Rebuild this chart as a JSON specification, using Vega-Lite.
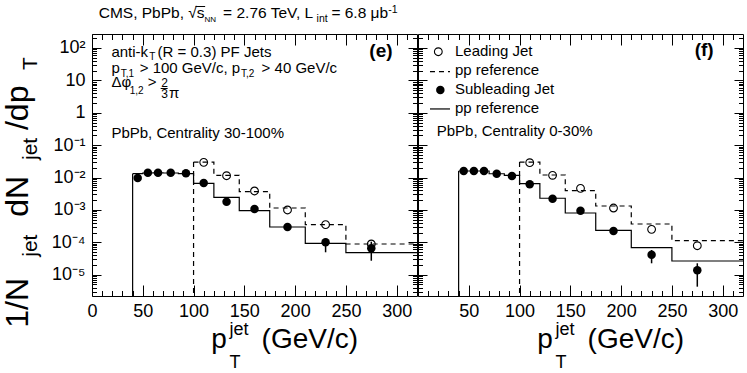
{
  "$schema": "https://vega.github.io/schema/vega-lite/v6.json",
  "autosize": {"type": "none"},
  "padding": {"left": 92, "top": 34, "right": 655, "bottom": 339},
  "background": "white",
  "datasets": {
    "e_lead_pp": [{"pt":100,"v":0.0301},{"pt":120,"v":0.01172},{"pt":145,"v":0.00366},{"pt":175,"v":0.001146},{"pt":210,"v":0.00035},{"pt":250,"v":0.0000887},{"pt":320,"v":0.0000887}],
    "e_sub_pp": [{"pt":40,"v":0.0132},{"pt":50,"v":0.0138},{"pt":60,"v":0.0139},{"pt":70,"v":0.0138},{"pt":85,"v":0.0132},{"pt":100,"v":0.00664},{"pt":120,"v":0.00245},{"pt":145,"v":0.000946},{"pt":175,"v":0.000297},{"pt":210,"v":0.0000931},{"pt":250,"v":0.0000478},{"pt":320,"v":0.0000478}],
    "e_lead": [{"pt":110,"v":0.0295},{"pt":132.5,"v":0.01138},{"pt":160,"v":0.00384},{"pt":192.5,"v":0.000996},{"pt":230,"v":0.00035},{"pt":275,"v":0.0000887}],
    "e_sub": [{"pt":45,"v":0.00966},{"pt":55,"v":0.0141},{"pt":65,"v":0.0141},{"pt":77.5,"v":0.0141},{"pt":92.5,"v":0.0135},{"pt":110,"v":0.00678},{"pt":132.5,"v":0.00179},{"pt":160,"v":0.001066},{"pt":192.5,"v":0.000297},{"pt":230,"v":0.0001},{"pt":275,"v":0.0000653}],
    "e_sub_err": [{"pt":230,"lo":0.0000492,"hi":0.000133},{"pt":275,"lo":0.000027,"hi":0.0001045}],
    "f_lead_pp": [{"pt":100,"v":0.0301},{"pt":120,"v":0.01197},{"pt":145,"v":0.00392},{"pt":175,"v":0.00132},{"pt":210,"v":0.000367},{"pt":250,"v":0.000112},{"pt":320,"v":0.000112}],
    "f_sub_pp": [{"pt":40,"v":0.0159},{"pt":50,"v":0.0159},{"pt":60,"v":0.0159},{"pt":70,"v":0.0131},{"pt":85,"v":0.0117},{"pt":100,"v":0.00646},{"pt":120,"v":0.00229},{"pt":145,"v":0.000803},{"pt":175,"v":0.000235},{"pt":210,"v":0.0000682},{"pt":250,"v":0.0000265},{"pt":320,"v":0.0000265}],
    "f_lead": [{"pt":110,"v":0.0287},{"pt":132.5,"v":0.01172},{"pt":160,"v":0.00465},{"pt":192.5,"v":0.001146},{"pt":230,"v":0.000252},{"pt":275,"v":0.0000785}],
    "f_sub": [{"pt":45,"v":0.0159},{"pt":55,"v":0.0159},{"pt":65,"v":0.0159},{"pt":77.5,"v":0.0131},{"pt":92.5,"v":0.01115},{"pt":110,"v":0.00618},{"pt":132.5,"v":0.00222},{"pt":160,"v":0.000946},{"pt":192.5,"v":0.000223},{"pt":230,"v":0.0000414},{"pt":275,"v":0.0000137}],
    "f_sub_err": [{"pt":230,"lo":0.0000225,"hi":0.0000579},{"pt":275,"lo":0.00000427,"hi":0.0000225}]
  },
  "hconcat": [
    {
      "width": 325, "height": 262,
      "data": {"values": [{}]},
      "resolve": {"axis": {"x": "independent", "y": "independent"}},
      "layer": [
        {"data":{"name":"e_lead_pp"},"mark":{"type":"line","interpolate":"step-after","color":"black","strokeWidth":1.2,"strokeDash":[5,4]},
         "encoding":{"x":{"field":"pt","type":"quantitative","scale":{"domain":[0,320],"nice":false,"zero":false},
           "axis":{"orient":"bottom","title":null,"values":[0,10,20,30,40,50,60,70,80,90,100,110,120,130,140,150,160,170,180,190,200,210,220,230,240,250,260,270,280,290,300,310],"tickSize":{"condition":{"test":"datum.value % 50 === 0","value":-11},"value":-5.5},"labelExpr":"datum.value % 50 === 0 ? datum.label : ''","labelPadding":17}},
           "y":{"field":"v","type":"quantitative","scale":{"type":"log","domain":[0.0000022,270],"nice":false},
           "axis":{"orient":"left","title":null,"values":[0.000003,0.000004,0.000005,0.000006,0.000007,0.000008,0.000009,0.00001,0.00002,0.00003,0.00004,0.00005,0.00006,0.00007,0.00008,0.00009,0.0001,0.0002,0.0003,0.0004,0.0005,0.0006,0.0007,0.0008,0.0009,0.001,0.002,0.003,0.004,0.005,0.006,0.007,0.008,0.009,0.01,0.02,0.03,0.04,0.05,0.06,0.07,0.08,0.09,0.1,0.2,0.3,0.4,0.5,0.6,0.7,0.8,0.9,1,2,3,4,5,6,7,8,9,10,20,30,40,50,60,70,80,90,100,200],
             "tickSize":{"condition":{"test":"abs(log(datum.value)/LN10 - round(log(datum.value)/LN10)) < 0.001","value":-9},"value":-4.5},
             "labelExpr":"abs(log(datum.value)/LN10 - round(log(datum.value)/LN10)) > 0.001 ? '' : round(log(datum.value)/LN10) == 2 ? '10²' : round(log(datum.value)/LN10) == 1 ? '10' : round(log(datum.value)/LN10) == 0 ? '1' : round(log(datum.value)/LN10) == -1 ? '10⁻¹' : round(log(datum.value)/LN10) == -2 ? '10⁻²' : round(log(datum.value)/LN10) == -3 ? '10⁻³' : round(log(datum.value)/LN10) == -4 ? '10⁻⁴' : round(log(datum.value)/LN10) == -5 ? '10⁻⁵' : ''",
             "labelPadding":16,"labelBaseline":"middle"}}}},
        {"data":{"name":"e_sub_pp"},"mark":{"type":"line","interpolate":"step-after","color":"black","strokeWidth":1.2},
         "encoding":{"x":{"field":"pt","type":"quantitative","scale":{"domain":[0,320],"nice":false,"zero":false},
           "axis":{"orient":"top","title":null,"labels":false,"values":[0,10,20,30,40,50,60,70,80,90,100,110,120,130,140,150,160,170,180,190,200,210,220,230,240,250,260,270,280,290,300,310],"tickSize":{"condition":{"test":"datum.value % 50 === 0","value":-11},"value":-5.5}}},
           "y":{"field":"v","type":"quantitative","scale":{"type":"log","domain":[0.0000022,270],"nice":false},
           "axis":{"orient":"right","title":null,"labels":false,"values":[0.000003,0.000004,0.000005,0.000006,0.000007,0.000008,0.000009,0.00001,0.00002,0.00003,0.00004,0.00005,0.00006,0.00007,0.00008,0.00009,0.0001,0.0002,0.0003,0.0004,0.0005,0.0006,0.0007,0.0008,0.0009,0.001,0.002,0.003,0.004,0.005,0.006,0.007,0.008,0.009,0.01,0.02,0.03,0.04,0.05,0.06,0.07,0.08,0.09,0.1,0.2,0.3,0.4,0.5,0.6,0.7,0.8,0.9,1,2,3,4,5,6,7,8,9,10,20,30,40,50,60,70,80,90,100,200],
             "tickSize":{"condition":{"test":"abs(log(datum.value)/LN10 - round(log(datum.value)/LN10)) < 0.001","value":-9},"value":-4.5}}}}},
        {"data":{"name":"e_lead_pp"},"transform":[{"filter":"datum.pt == 100"}],"mark":{"type":"rule","color":"black","strokeWidth":1.2,"strokeDash":[5,4]},
         "encoding":{"x":{"field":"pt","type":"quantitative","scale":{"domain":[0,320],"nice":false,"zero":false},"axis":null},"y":{"field":"v","type":"quantitative","scale":{"type":"log","domain":[0.0000022,270],"nice":false},"axis":null},"y2":{"datum":0.0000022}}},
        {"data":{"name":"e_sub_pp"},"transform":[{"filter":"datum.pt == 40"}],"mark":{"type":"rule","color":"black","strokeWidth":1.2},
         "encoding":{"x":{"field":"pt","type":"quantitative","scale":{"domain":[0,320],"nice":false,"zero":false},"axis":null},"y":{"field":"v","type":"quantitative","scale":{"type":"log","domain":[0.0000022,270],"nice":false},"axis":null},"y2":{"datum":0.0000022}}},
        {"data":{"name":"e_sub_err"},"mark":{"type":"rule","color":"black","strokeWidth":1.5},
         "encoding":{"x":{"field":"pt","type":"quantitative","scale":{"domain":[0,320],"nice":false,"zero":false},"axis":null},"y":{"field":"lo","type":"quantitative","scale":{"type":"log","domain":[0.0000022,270],"nice":false},"axis":null},"y2":{"field":"hi"}}},
        {"data":{"name":"e_lead"},"mark":{"type":"point","shape":"circle","filled":false,"color":"black","strokeWidth":1.1,"size":60,"opacity":1},
         "encoding":{"x":{"field":"pt","type":"quantitative","scale":{"domain":[0,320],"nice":false,"zero":false},"axis":null},"y":{"field":"v","type":"quantitative","scale":{"type":"log","domain":[0.0000022,270],"nice":false},"axis":null}}},
        {"data":{"name":"e_sub"},"mark":{"type":"point","shape":"circle","filled":true,"color":"black","size":72,"opacity":1},
         "encoding":{"x":{"field":"pt","type":"quantitative","scale":{"domain":[0,320],"nice":false,"zero":false},"axis":null},"y":{"field":"v","type":"quantitative","scale":{"type":"log","domain":[0.0000022,270],"nice":false},"axis":null}}},

        {"mark":{"type":"text","text":"CMS, PbPb,","fontSize":15.5},"encoding":{"x":{"datum":6.6,"type":"quantitative","scale":{"domain":[0,320],"nice":false,"zero":false},"axis":null},"y":{"datum":824,"type":"quantitative","scale":{"type":"log","domain":[0.0000022,270],"nice":false},"axis":null}}},
        {"mark":{"type":"text","text":"√s","fontSize":15.5},"encoding":{"x":{"datum":94.7,"type":"quantitative","scale":{"domain":[0,320],"nice":false,"zero":false},"axis":null},"y":{"datum":824,"type":"quantitative","scale":{"type":"log","domain":[0.0000022,270],"nice":false},"axis":null}}},
        {"mark":{"type":"rule","color":"black","strokeWidth":1},"encoding":{"x":{"datum":102.0,"type":"quantitative","scale":{"domain":[0,320],"nice":false,"zero":false},"axis":null},"x2":{"datum":111.4},"y":{"datum":1905,"type":"quantitative","scale":{"type":"log","domain":[0.0000022,270],"nice":false},"axis":null}}},
        {"mark":{"type":"text","text":"NN","fontSize":8},"encoding":{"x":{"datum":110.8,"type":"quantitative","scale":{"domain":[0,320],"nice":false,"zero":false},"axis":null},"y":{"datum":634,"type":"quantitative","scale":{"type":"log","domain":[0.0000022,270],"nice":false},"axis":null}}},
        {"mark":{"type":"text","text":"= 2.76 TeV, L","fontSize":15.5},"encoding":{"x":{"datum":129.1,"type":"quantitative","scale":{"domain":[0,320],"nice":false,"zero":false},"axis":null},"y":{"datum":824,"type":"quantitative","scale":{"type":"log","domain":[0.0000022,270],"nice":false},"axis":null}}},
        {"mark":{"type":"text","text":"int","fontSize":10.5},"encoding":{"x":{"datum":221.1,"type":"quantitative","scale":{"domain":[0,320],"nice":false,"zero":false},"axis":null},"y":{"datum":634,"type":"quantitative","scale":{"type":"log","domain":[0.0000022,270],"nice":false},"axis":null}}},
        {"mark":{"type":"text","text":"= 6.8 μb","fontSize":15.5},"encoding":{"x":{"datum":235.7,"type":"quantitative","scale":{"domain":[0,320],"nice":false,"zero":false},"axis":null},"y":{"datum":824,"type":"quantitative","scale":{"type":"log","domain":[0.0000022,270],"nice":false},"axis":null}}},
        {"mark":{"type":"text","text":"-1","fontSize":10.5},"encoding":{"x":{"datum":291.6,"type":"quantitative","scale":{"domain":[0,320],"nice":false,"zero":false},"axis":null},"y":{"datum":1202,"type":"quantitative","scale":{"type":"log","domain":[0.0000022,270],"nice":false},"axis":null}}},

        {"mark":{"type":"text","text":"1/N","fontSize":32,"angle":270},"encoding":{"x":{"datum":-63.2,"type":"quantitative","scale":{"domain":[0,320],"nice":false,"zero":false},"axis":null},"y":{"datum":0.000000231,"type":"quantitative","scale":{"type":"log","domain":[0.0000022,270],"nice":false},"axis":null}}},
        {"mark":{"type":"text","text":"jet","fontSize":21,"angle":270},"encoding":{"x":{"datum":-54.4,"type":"quantitative","scale":{"domain":[0,320],"nice":false,"zero":false},"axis":null},"y":{"datum":0.0000359,"type":"quantitative","scale":{"type":"log","domain":[0.0000022,270],"nice":false},"axis":null}}},
        {"mark":{"type":"text","text":"dN","fontSize":32,"angle":270},"encoding":{"x":{"datum":-63.2,"type":"quantitative","scale":{"domain":[0,320],"nice":false,"zero":false},"axis":null},"y":{"datum":0.000618,"type":"quantitative","scale":{"type":"log","domain":[0.0000022,270],"nice":false},"axis":null}}},
        {"mark":{"type":"text","text":"jet","fontSize":21,"angle":270},"encoding":{"x":{"datum":-54.4,"type":"quantitative","scale":{"domain":[0,320],"nice":false,"zero":false},"axis":null},"y":{"datum":0.0348,"type":"quantitative","scale":{"type":"log","domain":[0.0000022,270],"nice":false},"axis":null}}},
        {"mark":{"type":"text","text":"/dp","fontSize":32,"angle":270},"encoding":{"x":{"datum":-63.2,"type":"quantitative","scale":{"domain":[0,320],"nice":false,"zero":false},"axis":null},"y":{"datum":0.293,"type":"quantitative","scale":{"type":"log","domain":[0.0000022,270],"nice":false},"axis":null}}},
        {"mark":{"type":"text","text":"T","fontSize":21,"angle":270},"encoding":{"x":{"datum":-54.4,"type":"quantitative","scale":{"domain":[0,320],"nice":false,"zero":false},"axis":null},"y":{"datum":20.9,"type":"quantitative","scale":{"type":"log","domain":[0.0000022,270],"nice":false},"axis":null}}},

        {"mark":{"type":"text","text":"p","fontSize":28},"encoding":{"x":{"datum":117.4,"type":"quantitative","scale":{"domain":[0,320],"nice":false,"zero":false},"axis":null},"y":{"datum":0.0000000546,"type":"quantitative","scale":{"type":"log","domain":[0.0000022,270],"nice":false},"axis":null}}},
        {"mark":{"type":"text","text":"jet","fontSize":18},"encoding":{"x":{"datum":135.4,"type":"quantitative","scale":{"domain":[0,320],"nice":false,"zero":false},"axis":null},"y":{"datum":0.0000001374,"type":"quantitative","scale":{"type":"log","domain":[0.0000022,270],"nice":false},"axis":null}}},
        {"mark":{"type":"text","text":"T","fontSize":18},"encoding":{"x":{"datum":135.4,"type":"quantitative","scale":{"domain":[0,320],"nice":false,"zero":false},"axis":null},"y":{"datum":0.00000001318,"type":"quantitative","scale":{"type":"log","domain":[0.0000022,270],"nice":false},"axis":null}}},
        {"mark":{"type":"text","text":"(GeV/c)","fontSize":28},"encoding":{"x":{"datum":167,"type":"quantitative","scale":{"domain":[0,320],"nice":false,"zero":false},"axis":null},"y":{"datum":0.0000000546,"type":"quantitative","scale":{"type":"log","domain":[0.0000022,270],"nice":false},"axis":null}}},

        {"mark":{"type":"text","text":"anti-k","fontSize":15},"encoding":{"x":{"datum":19.1,"type":"quantitative","scale":{"domain":[0,320],"nice":false,"zero":false},"axis":null},"y":{"datum":53.7,"type":"quantitative","scale":{"type":"log","domain":[0.0000022,270],"nice":false},"axis":null}}},
        {"mark":{"type":"text","text":"T","fontSize":10},"encoding":{"x":{"datum":56.3,"type":"quantitative","scale":{"domain":[0,320],"nice":false,"zero":false},"axis":null},"y":{"datum":42.5,"type":"quantitative","scale":{"type":"log","domain":[0.0000022,270],"nice":false},"axis":null}}},
        {"mark":{"type":"text","text":"(R = 0.3) PF Jets","fontSize":15},"encoding":{"x":{"datum":64.6,"type":"quantitative","scale":{"domain":[0,320],"nice":false,"zero":false},"axis":null},"y":{"datum":53.7,"type":"quantitative","scale":{"type":"log","domain":[0.0000022,270],"nice":false},"axis":null}}},
        {"mark":{"type":"text","text":"(e)","fontSize":19,"fontWeight":"bold"},"encoding":{"x":{"datum":273.1,"type":"quantitative","scale":{"domain":[0,320],"nice":false,"zero":false},"axis":null},"y":{"datum":53.7,"type":"quantitative","scale":{"type":"log","domain":[0.0000022,270],"nice":false},"axis":null}}},
        {"mark":{"type":"text","text":"p","fontSize":15},"encoding":{"x":{"datum":19.1,"type":"quantitative","scale":{"domain":[0,320],"nice":false,"zero":false},"axis":null},"y":{"datum":17.2,"type":"quantitative","scale":{"type":"log","domain":[0.0000022,270],"nice":false},"axis":null}}},
        {"mark":{"type":"text","text":"T,1","fontSize":10},"encoding":{"x":{"datum":28.2,"type":"quantitative","scale":{"domain":[0,320],"nice":false,"zero":false},"axis":null},"y":{"datum":13.0,"type":"quantitative","scale":{"type":"log","domain":[0.0000022,270],"nice":false},"axis":null}}},
        {"mark":{"type":"text","text":"> 100 GeV/c, p","fontSize":15},"encoding":{"x":{"datum":47.0,"type":"quantitative","scale":{"domain":[0,320],"nice":false,"zero":false},"axis":null},"y":{"datum":17.2,"type":"quantitative","scale":{"type":"log","domain":[0.0000022,270],"nice":false},"axis":null}}},
        {"mark":{"type":"text","text":"T,2","fontSize":10},"encoding":{"x":{"datum":146.8,"type":"quantitative","scale":{"domain":[0,320],"nice":false,"zero":false},"axis":null},"y":{"datum":13.0,"type":"quantitative","scale":{"type":"log","domain":[0.0000022,270],"nice":false},"axis":null}}},
        {"mark":{"type":"text","text":"> 40 GeV/c","fontSize":15},"encoding":{"x":{"datum":167,"type":"quantitative","scale":{"domain":[0,320],"nice":false,"zero":false},"axis":null},"y":{"datum":17.2,"type":"quantitative","scale":{"type":"log","domain":[0.0000022,270],"nice":false},"axis":null}}},
        {"mark":{"type":"text","text":"Δφ","fontSize":15},"encoding":{"x":{"datum":19.1,"type":"quantitative","scale":{"domain":[0,320],"nice":false,"zero":false},"axis":null},"y":{"datum":6.11,"type":"quantitative","scale":{"type":"log","domain":[0.0000022,270],"nice":false},"axis":null}}},
        {"mark":{"type":"text","text":"1,2","fontSize":10},"encoding":{"x":{"datum":37.1,"type":"quantitative","scale":{"domain":[0,320],"nice":false,"zero":false},"axis":null},"y":{"datum":3.79,"type":"quantitative","scale":{"type":"log","domain":[0.0000022,270],"nice":false},"axis":null}}},
        {"mark":{"type":"text","text":">","fontSize":15},"encoding":{"x":{"datum":54.8,"type":"quantitative","scale":{"domain":[0,320],"nice":false,"zero":false},"axis":null},"y":{"datum":6.11,"type":"quantitative","scale":{"type":"log","domain":[0.0000022,270],"nice":false},"axis":null}}},
        {"mark":{"type":"text","text":"2","fontSize":12},"encoding":{"x":{"datum":68.3,"type":"quantitative","scale":{"domain":[0,320],"nice":false,"zero":false},"axis":null},"y":{"datum":6.37,"type":"quantitative","scale":{"type":"log","domain":[0.0000022,270],"nice":false},"axis":null}}},
        {"mark":{"type":"text","text":"3","fontSize":12},"encoding":{"x":{"datum":68.3,"type":"quantitative","scale":{"domain":[0,320],"nice":false,"zero":false},"axis":null},"y":{"datum":2.79,"type":"quantitative","scale":{"type":"log","domain":[0.0000022,270],"nice":false},"axis":null}}},
        {"mark":{"type":"rule","color":"black","strokeWidth":1},"encoding":{"x":{"datum":67.6,"type":"quantitative","scale":{"domain":[0,320],"nice":false,"zero":false},"axis":null},"x2":{"datum":74.5},"y":{"datum":5.61,"type":"quantitative","scale":{"type":"log","domain":[0.0000022,270],"nice":false},"axis":null}}},
        {"mark":{"type":"text","text":"π","fontSize":15},"encoding":{"x":{"datum":75.7,"type":"quantitative","scale":{"domain":[0,320],"nice":false,"zero":false},"axis":null},"y":{"datum":2.79,"type":"quantitative","scale":{"type":"log","domain":[0.0000022,270],"nice":false},"axis":null}}},
        {"mark":{"type":"text","text":"PbPb, Centrality 30-100%","fontSize":15},"encoding":{"x":{"datum":19.1,"type":"quantitative","scale":{"domain":[0,320],"nice":false,"zero":false},"axis":null},"y":{"datum":0.1626,"type":"quantitative","scale":{"type":"log","domain":[0.0000022,270],"nice":false},"axis":null}}}
      ]
    },
    {
      "width": 325, "height": 262,
      "data": {"values": [{}]},
      "resolve": {"axis": {"x": "independent", "y": "independent"}},
      "layer": [
        {"data":{"name":"f_lead_pp"},"mark":{"type":"line","interpolate":"step-after","color":"black","strokeWidth":1.2,"strokeDash":[5,4]},
         "encoding":{"x":{"field":"pt","type":"quantitative","scale":{"domain":[0,320],"nice":false,"zero":false},
           "axis":{"orient":"bottom","title":null,"values":[0,10,20,30,40,50,60,70,80,90,100,110,120,130,140,150,160,170,180,190,200,210,220,230,240,250,260,270,280,290,300,310],"tickSize":{"condition":{"test":"datum.value % 50 === 0","value":-11},"value":-5.5},"labelExpr":"datum.value % 50 === 0 && datum.value > 0 ? datum.label : ''","labelPadding":17}},
           "y":{"field":"v","type":"quantitative","scale":{"type":"log","domain":[0.0000022,270],"nice":false},
           "axis":{"orient":"left","title":null,"labels":false,"values":[0.000003,0.000004,0.000005,0.000006,0.000007,0.000008,0.000009,0.00001,0.00002,0.00003,0.00004,0.00005,0.00006,0.00007,0.00008,0.00009,0.0001,0.0002,0.0003,0.0004,0.0005,0.0006,0.0007,0.0008,0.0009,0.001,0.002,0.003,0.004,0.005,0.006,0.007,0.008,0.009,0.01,0.02,0.03,0.04,0.05,0.06,0.07,0.08,0.09,0.1,0.2,0.3,0.4,0.5,0.6,0.7,0.8,0.9,1,2,3,4,5,6,7,8,9,10,20,30,40,50,60,70,80,90,100,200],
             "tickSize":{"condition":{"test":"abs(log(datum.value)/LN10 - round(log(datum.value)/LN10)) < 0.001","value":-9},"value":-4.5}}}}},
        {"data":{"name":"f_sub_pp"},"mark":{"type":"line","interpolate":"step-after","color":"black","strokeWidth":1.2},
         "encoding":{"x":{"field":"pt","type":"quantitative","scale":{"domain":[0,320],"nice":false,"zero":false},
           "axis":{"orient":"top","title":null,"labels":false,"values":[0,10,20,30,40,50,60,70,80,90,100,110,120,130,140,150,160,170,180,190,200,210,220,230,240,250,260,270,280,290,300,310],"tickSize":{"condition":{"test":"datum.value % 50 === 0","value":-11},"value":-5.5}}},
           "y":{"field":"v","type":"quantitative","scale":{"type":"log","domain":[0.0000022,270],"nice":false},
           "axis":{"orient":"right","title":null,"labels":false,"values":[0.000003,0.000004,0.000005,0.000006,0.000007,0.000008,0.000009,0.00001,0.00002,0.00003,0.00004,0.00005,0.00006,0.00007,0.00008,0.00009,0.0001,0.0002,0.0003,0.0004,0.0005,0.0006,0.0007,0.0008,0.0009,0.001,0.002,0.003,0.004,0.005,0.006,0.007,0.008,0.009,0.01,0.02,0.03,0.04,0.05,0.06,0.07,0.08,0.09,0.1,0.2,0.3,0.4,0.5,0.6,0.7,0.8,0.9,1,2,3,4,5,6,7,8,9,10,20,30,40,50,60,70,80,90,100,200],
             "tickSize":{"condition":{"test":"abs(log(datum.value)/LN10 - round(log(datum.value)/LN10)) < 0.001","value":-9},"value":-4.5}}}}},
        {"data":{"name":"f_lead_pp"},"transform":[{"filter":"datum.pt == 100"}],"mark":{"type":"rule","color":"black","strokeWidth":1.2,"strokeDash":[5,4]},
         "encoding":{"x":{"field":"pt","type":"quantitative","scale":{"domain":[0,320],"nice":false,"zero":false},"axis":null},"y":{"field":"v","type":"quantitative","scale":{"type":"log","domain":[0.0000022,270],"nice":false},"axis":null},"y2":{"datum":0.0000022}}},
        {"data":{"name":"f_sub_pp"},"transform":[{"filter":"datum.pt == 40"}],"mark":{"type":"rule","color":"black","strokeWidth":1.2},
         "encoding":{"x":{"field":"pt","type":"quantitative","scale":{"domain":[0,320],"nice":false,"zero":false},"axis":null},"y":{"field":"v","type":"quantitative","scale":{"type":"log","domain":[0.0000022,270],"nice":false},"axis":null},"y2":{"datum":0.0000022}}},
        {"data":{"name":"f_sub_err"},"mark":{"type":"rule","color":"black","strokeWidth":1.5},
         "encoding":{"x":{"field":"pt","type":"quantitative","scale":{"domain":[0,320],"nice":false,"zero":false},"axis":null},"y":{"field":"lo","type":"quantitative","scale":{"type":"log","domain":[0.0000022,270],"nice":false},"axis":null},"y2":{"field":"hi"}}},
        {"data":{"name":"f_lead"},"mark":{"type":"point","shape":"circle","filled":false,"color":"black","strokeWidth":1.1,"size":60,"opacity":1},
         "encoding":{"x":{"field":"pt","type":"quantitative","scale":{"domain":[0,320],"nice":false,"zero":false},"axis":null},"y":{"field":"v","type":"quantitative","scale":{"type":"log","domain":[0.0000022,270],"nice":false},"axis":null}}},
        {"data":{"name":"f_sub"},"mark":{"type":"point","shape":"circle","filled":true,"color":"black","size":72,"opacity":1},
         "encoding":{"x":{"field":"pt","type":"quantitative","scale":{"domain":[0,320],"nice":false,"zero":false},"axis":null},"y":{"field":"v","type":"quantitative","scale":{"type":"log","domain":[0.0000022,270],"nice":false},"axis":null}}},

        {"mark":{"type":"point","shape":"circle","filled":false,"color":"black","strokeWidth":1.1,"size":60,"opacity":1},"encoding":{"x":{"datum":20.0,"type":"quantitative","scale":{"domain":[0,320],"nice":false,"zero":false},"axis":null},"y":{"datum":76.7,"type":"quantitative","scale":{"type":"log","domain":[0.0000022,270],"nice":false},"axis":null}}},
        {"mark":{"type":"rule","color":"black","strokeWidth":1.2,"strokeDash":[5,4]},"encoding":{"x":{"datum":11.8,"type":"quantitative","scale":{"domain":[0,320],"nice":false,"zero":false},"axis":null},"x2":{"datum":31.5},"y":{"datum":18.5,"type":"quantitative","scale":{"type":"log","domain":[0.0000022,270],"nice":false},"axis":null}}},
        {"mark":{"type":"point","shape":"circle","filled":true,"color":"black","size":72,"opacity":1},"encoding":{"x":{"datum":22.0,"type":"quantitative","scale":{"domain":[0,320],"nice":false,"zero":false},"axis":null},"y":{"datum":5.04,"type":"quantitative","scale":{"type":"log","domain":[0.0000022,270],"nice":false},"axis":null}}},
        {"mark":{"type":"rule","color":"black","strokeWidth":1.2},"encoding":{"x":{"datum":11.8,"type":"quantitative","scale":{"domain":[0,320],"nice":false,"zero":false},"axis":null},"x2":{"datum":31.5},"y":{"datum":1.31,"type":"quantitative","scale":{"type":"log","domain":[0.0000022,270],"nice":false},"axis":null}}},
        {"mark":{"type":"text","text":"Leading Jet","fontSize":15},"encoding":{"x":{"datum":36.4,"type":"quantitative","scale":{"domain":[0,320],"nice":false,"zero":false},"axis":null},"y":{"datum":56.5,"type":"quantitative","scale":{"type":"log","domain":[0.0000022,270],"nice":false},"axis":null}}},
        {"mark":{"type":"text","text":"pp reference","fontSize":15},"encoding":{"x":{"datum":36.4,"type":"quantitative","scale":{"domain":[0,320],"nice":false,"zero":false},"axis":null},"y":{"datum":14.7,"type":"quantitative","scale":{"type":"log","domain":[0.0000022,270],"nice":false},"axis":null}}},
        {"mark":{"type":"text","text":"Subleading Jet","fontSize":15},"encoding":{"x":{"datum":36.4,"type":"quantitative","scale":{"domain":[0,320],"nice":false,"zero":false},"axis":null},"y":{"datum":3.79,"type":"quantitative","scale":{"type":"log","domain":[0.0000022,270],"nice":false},"axis":null}}},
        {"mark":{"type":"text","text":"pp reference","fontSize":15},"encoding":{"x":{"datum":36.4,"type":"quantitative","scale":{"domain":[0,320],"nice":false,"zero":false},"axis":null},"y":{"datum":1.0,"type":"quantitative","scale":{"type":"log","domain":[0.0000022,270],"nice":false},"axis":null}}},
        {"mark":{"type":"text","text":"PbPb, Centrality 0-30%","fontSize":15},"encoding":{"x":{"datum":18.4,"type":"quantitative","scale":{"domain":[0,320],"nice":false,"zero":false},"axis":null},"y":{"datum":0.191,"type":"quantitative","scale":{"type":"log","domain":[0.0000022,270],"nice":false},"axis":null}}},
        {"mark":{"type":"text","text":"(f)","fontSize":19,"fontWeight":"bold"},"encoding":{"x":{"datum":272.4,"type":"quantitative","scale":{"domain":[0,320],"nice":false,"zero":false},"axis":null},"y":{"datum":56.5,"type":"quantitative","scale":{"type":"log","domain":[0.0000022,270],"nice":false},"axis":null}}},

        {"mark":{"type":"text","text":"p","fontSize":28},"encoding":{"x":{"datum":117.4,"type":"quantitative","scale":{"domain":[0,320],"nice":false,"zero":false},"axis":null},"y":{"datum":0.0000000546,"type":"quantitative","scale":{"type":"log","domain":[0.0000022,270],"nice":false},"axis":null}}},
        {"mark":{"type":"text","text":"jet","fontSize":18},"encoding":{"x":{"datum":135.4,"type":"quantitative","scale":{"domain":[0,320],"nice":false,"zero":false},"axis":null},"y":{"datum":0.0000001374,"type":"quantitative","scale":{"type":"log","domain":[0.0000022,270],"nice":false},"axis":null}}},
        {"mark":{"type":"text","text":"T","fontSize":18},"encoding":{"x":{"datum":135.4,"type":"quantitative","scale":{"domain":[0,320],"nice":false,"zero":false},"axis":null},"y":{"datum":0.00000001318,"type":"quantitative","scale":{"type":"log","domain":[0.0000022,270],"nice":false},"axis":null}}},
        {"mark":{"type":"text","text":"(GeV/c)","fontSize":28},"encoding":{"x":{"datum":167,"type":"quantitative","scale":{"domain":[0,320],"nice":false,"zero":false},"axis":null},"y":{"datum":0.0000000546,"type":"quantitative","scale":{"type":"log","domain":[0.0000022,270],"nice":false},"axis":null}}}
      ]
    }
  ],
  "spacing": 1,
  "bounds": "flush",
  "config": {
    "view": {"stroke": "black", "strokeWidth": 1},
    "axis": {"domain": false, "grid": false, "tickColor": "black", "tickWidth": 1, "labelFont": "Liberation Sans", "labelFontSize": 18, "labelColor": "black", "labelFlush": false, "labelOverlap": false, "labelBound": false},
    "text": {"font": "Liberation Sans", "fill": "black", "align": "left", "baseline": "alphabetic"}
  }
}
